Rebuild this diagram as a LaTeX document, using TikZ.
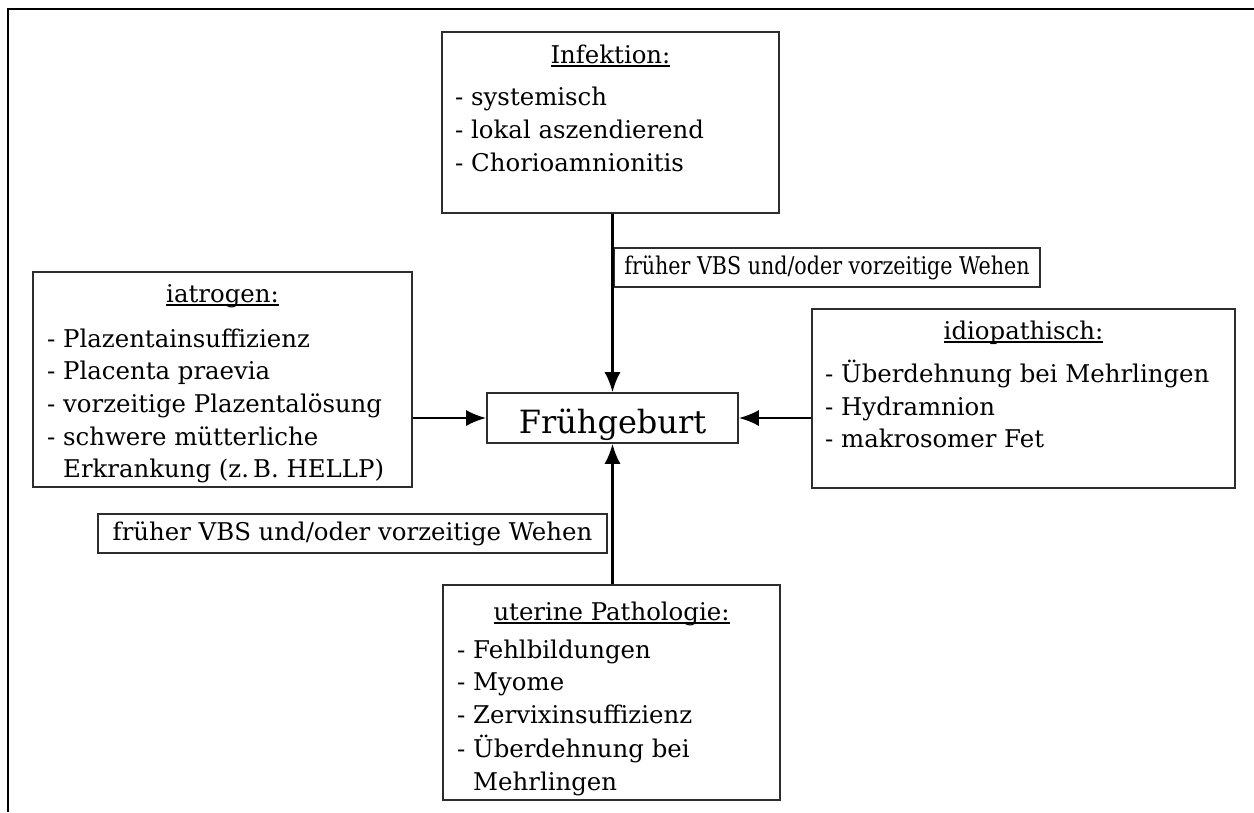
\documentclass[tikz,border=0pt]{standalone}
\usepackage{fontspec}
\setmainfont{DejaVu Serif}
\newfontfamily\narrowserif{DejaVu Serif}[FakeStretch=0.845]
\usetikzlibrary{arrows.meta}
\definecolor{boxgray}{RGB}{45,45,45}
\newcommand\bodyfont{\fontsize{24.4}{33}\selectfont}
\newcommand\narrowbody{\narrowserif\fontsize{24.4}{33}\selectfont}
\newcommand\bigfont{\fontsize{32}{40}\selectfont}
\newcommand\ulin[1]{\setbox0\hbox{#1}\rlap{\rule[-3.5pt]{\wd0}{1.3pt}}\box0}
\begin{document}
\begin{tikzpicture}[x=1pt,y=-1pt,
  box/.style={draw=boxgray, line width=1.6pt, rectangle, inner sep=0pt},
  lbl/.style={box, text height=20pt, text depth=7pt, minimum height=39pt},
  ttl/.style={anchor=base, inner sep=0pt, font=\bodyfont},
  itm/.style={anchor=base west, inner sep=0pt, font=\bodyfont},
  arr/.style={line width=2.4pt, -{Latex[length=20pt,width=16pt]}},
  frame/.style={draw=black, line width=1.4pt}]
\useasboundingbox (0,0) rectangle (1254,812);
\draw[frame] (8,812) -- (8,9) -- (1254,9);

% boxes
\node[box, minimum width=337pt, minimum height=181pt] (inf) at (610.5,122.5) {};
\node[box, minimum width=379pt, minimum height=215pt] (iat) at (222.5,379.5) {};
\node[box, minimum width=423pt, minimum height=179pt] (idi) at (1023.5,398.5) {};
\node[box, minimum width=337pt, minimum height=215pt] (ute) at (611.5,692.5) {};
\node[box, minimum width=251pt, minimum height=50pt, text height=30pt, text depth=0pt, font=\bigfont] (fg) at (612.5,418) {Frühgeburt};

% labels
\node[lbl, minimum width=426pt, font=\narrowbody] (lt) at (827,267.5) {früher VBS und/oder vorzeitige Wehen};
\node[lbl, minimum width=509pt, font=\bodyfont] (lb) at (352.5,533.5) {früher VBS und/oder vorzeitige Wehen};

% Infektion
\node[ttl] (inft) at (610.5,63) {\ulin{Infektion:}};
\node[itm] (inf1) at (455,105) {- systemisch};
\node[itm] (inf2) at (455,138) {- lokal aszendierend};
\node[itm] (inf3) at (455,171) {- Chorioamnionitis};

% iatrogen
\node[ttl] (iatt) at (222.5,302) {\ulin{iatrogen:}};
\node[itm] (iat1) at (47,347) {- Plazentainsuffizienz};
\node[itm] (iat2) at (47,379) {- Placenta praevia};
\node[itm] (iat3) at (47,412) {- vorzeitige Plazentalösung};
\node[itm] (iat4) at (47,445) {- schwere mütterliche};
\node[itm] (iat5) at (47,477) {\phantom{- }Erkrankung (z.\,B. HELLP)};

% idiopathisch
\node[ttl] (idit) at (1023.5,339) {\ulin{idiopathisch:}};
\node[itm] (idi1) at (825,382) {- Überdehnung bei Mehrlingen};
\node[itm] (idi2) at (825,415) {- Hydramnion};
\node[itm] (idi3) at (825,447) {- makrosomer Fet};

% uterine Pathologie
\node[ttl] (utet) at (611.5,620) {\ulin{uterine Pathologie:}};
\node[itm] (ute1) at (457,658) {- Fehlbildungen};
\node[itm] (ute2) at (457,690) {- Myome};
\node[itm] (ute3) at (457,723) {- Zervixinsuffizienz};
\node[itm] (ute4) at (457,757) {- Überdehnung bei};
\node[itm] (ute5) at (457,790) {\phantom{- }Mehrlingen};

% arrows
\draw[arr] (fg.north |- inf.south) -- (fg.north);
\draw[arr] (fg.south |- ute.north) -- (fg.south);
\draw[arr] (iat.east |- fg.west) -- (fg.west);
\draw[arr] (idi.west |- fg.east) -- (fg.east);
\end{tikzpicture}
\end{document}
